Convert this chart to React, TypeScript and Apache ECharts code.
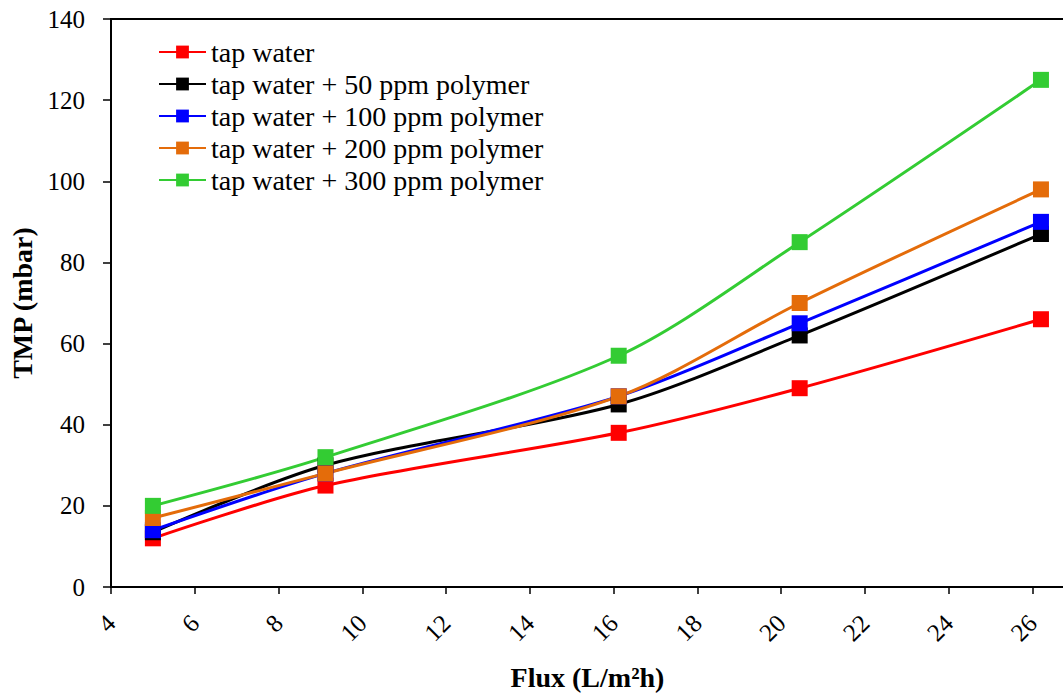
import React, { useEffect, useRef } from "react";
import * as echarts from "echarts";

const fluxValues = [5.0, 9.12, 16.12, 20.44, 26.2];
const seriesNames = [
  "tap water",
  "tap water + 50 ppm polymer",
  "tap water + 100 ppm polymer",
  "tap water + 200 ppm polymer",
  "tap water + 300 ppm polymer",
];
const tapWater = [12, 25, 38, 49, 66];
const polymer50 = [13.5, 30, 45, 62, 87];
const polymer100 = [14, 28, 47, 65, 90];
const polymer200 = [17, 28, 47, 70, 98];
const polymer300 = [20, 32, 57, 85, 125];
const seriesColors = ["#FF0000", "#000000", "#0000FF", "#E46C0A", "#33CC33"];

const FONT = '"Liberation Serif", "DejaVu Serif"';

function buildOption() {
  const allValues = [tapWater, polymer50, polymer100, polymer200, polymer300];
  return {
    animation: false,
    backgroundColor: "#ffffff",
    grid: {
      left: 111,
      top: 19,
      width: 953,
      height: 568,
      show: true,
      borderColor: "#000",
      borderWidth: 2,
      backgroundColor: "transparent",
      containLabel: false,
      outerBoundsMode: "none",
    },
    legend: {
      orient: "vertical",
      left: 158,
      top: 38,
      padding: 0,
      itemWidth: 47,
      itemHeight: 16,
      itemGap: 4,
      textStyle: { fontFamily: FONT, fontSize: 28, color: "#000" },
      data: seriesNames,
    },
    xAxis: {
      type: "value",
      min: 4,
      max: 26.75,
      interval: 2,
      name: "Flux (L/m²h)",
      nameLocation: "middle",
      nameGap: 76,
      nameTextStyle: { fontFamily: FONT, fontSize: 28, fontWeight: "bold", color: "#000" },
      axisLine: { lineStyle: { color: "#000", width: 2 } },
      axisTick: { show: true, inside: false, length: 7, lineStyle: { color: "#000", width: 1.5 } },
      splitLine: { show: false },
      axisLabel: {
        rotate: 45,
        fontFamily: FONT,
        fontSize: 25,
        color: "#000",
        margin: 32,
        showMaxLabel: false,
      },
    },
    yAxis: {
      type: "value",
      min: 0,
      max: 140,
      interval: 20,
      name: "TMP (mbar)",
      nameLocation: "middle",
      nameGap: 66,
      nameRotate: 90,
      nameTextStyle: { fontFamily: FONT, fontSize: 28, fontWeight: "bold", color: "#000" },
      axisLine: { show: true, lineStyle: { color: "#000", width: 2 } },
      axisTick: { show: true, inside: false, length: 8, lineStyle: { color: "#000", width: 1.5 } },
      splitLine: { show: false },
      axisLabel: { fontFamily: FONT, fontSize: 25, color: "#000", margin: 26 },
    },
    series: seriesNames.map((name, i) => ({
      name,
      type: "line",
      smooth: 0.3,
      symbol: "rect",
      symbolSize: 16,
      color: seriesColors[i],
      lineStyle: { width: 3, color: seriesColors[i] },
      itemStyle: { color: seriesColors[i] },
      data: fluxValues.map((x, j) => [x, allValues[i][j]]),
    })),
  };
}

export default function App() {
  const ref = useRef<HTMLDivElement>(null);
  useEffect(() => {
    document.body.style.margin = "0";
    if (!ref.current) return;
    let disposed = false;
    const chart = echarts.init(ref.current, undefined, { renderer: "svg" });
    chart.setOption(buildOption() as any);
    const fonts = (document as any).fonts;
    if (fonts && fonts.load) {
      Promise.all([
        fonts.load('25px "Liberation Serif"'),
        fonts.load('bold 28px "Liberation Serif"'),
      ])
        .then(() => {
          if (disposed) return;
          chart.clear();
          chart.setOption(buildOption() as any);
        })
        .catch(() => {});
    }
    return () => {
      disposed = true;
      chart.dispose();
    };
  }, []);
  return (
    <div style={{ position: "relative", width: 1063, height: 693 }}>
      <span
        style={{
          position: "absolute",
          left: 0,
          top: 0,
          fontFamily: FONT,
          fontSize: 25,
          opacity: 0,
          pointerEvents: "none",
        }}
      >
        tap water 0123456789
      </span>
      <div ref={ref} style={{ position: "absolute", left: 0, top: 0, width: 1063, height: 693 }} />
    </div>
  );
}
